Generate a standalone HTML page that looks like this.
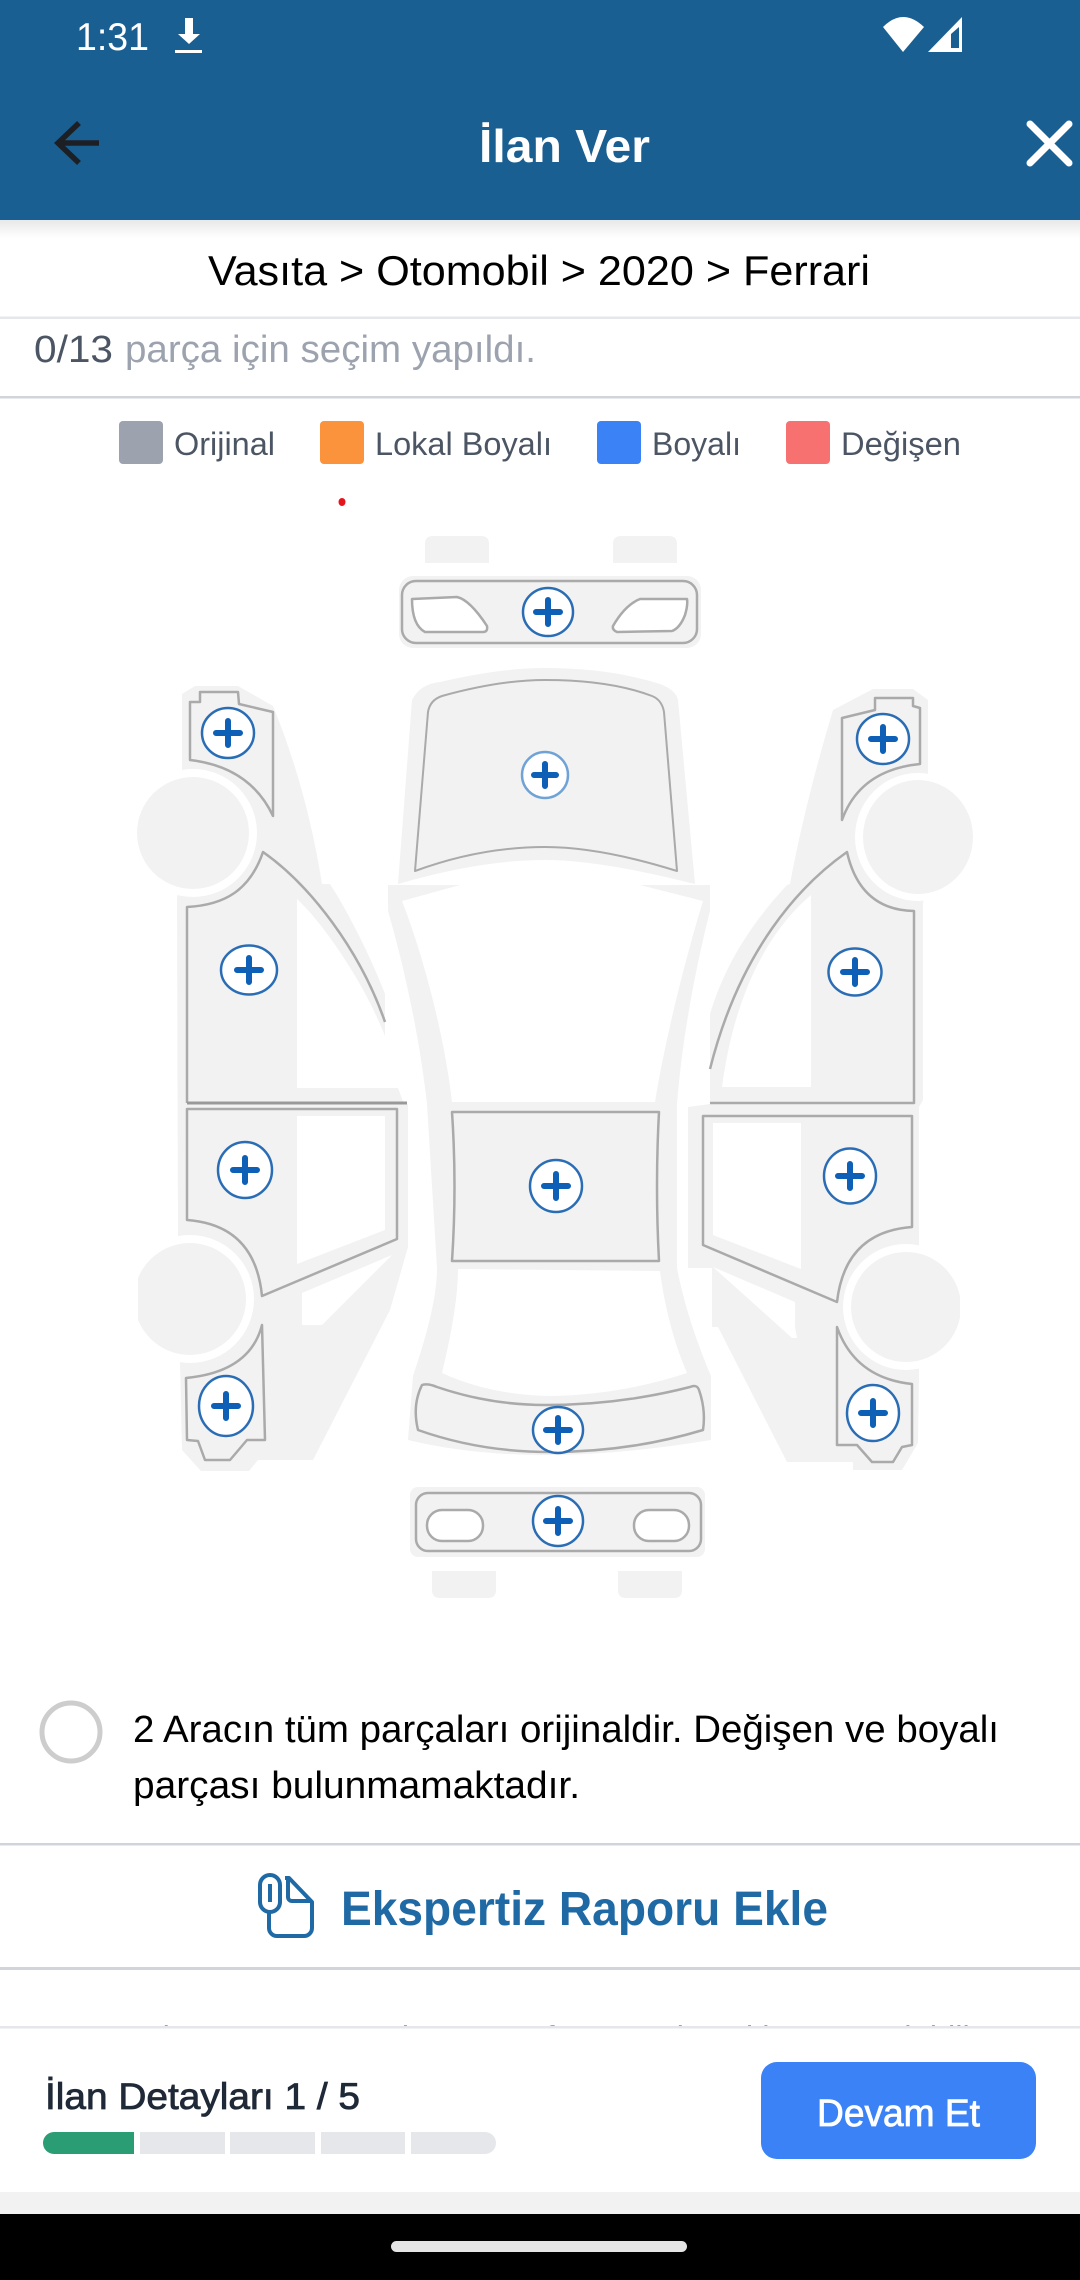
<!DOCTYPE html>
<html lang="tr">
<head>
<meta charset="utf-8">
<title>İlan Ver</title>
<style>
html,body{margin:0;padding:0;background:#fff;width:1080px;height:2280px;overflow:hidden}
svg{display:block}
text{font-family:"Liberation Sans","Noto Sans CJK JP",sans-serif}
</style>
</head>
<body>
<svg xmlns="http://www.w3.org/2000/svg" width="1080" height="2280" viewBox="0 0 1080 2280">
<defs>
<linearGradient id="sh" x1="0" y1="0" x2="0" y2="1"><stop offset="0" stop-color="#e8e8e8"/><stop offset="1" stop-color="#fff"/></linearGradient>
<clipPath id="cl"><rect x="138" y="1200" width="200" height="200"/></clipPath>
<clipPath id="cr"><rect x="780" y="1200" width="180" height="200"/></clipPath>
</defs>
<rect width="1080" height="2280" fill="#fff"/>

<!-- header -->
<rect width="1080" height="220" fill="#1a5f92"/>
<rect y="220" width="1080" height="18" fill="url(#sh)"/>
<text x="76" y="50" font-size="39" fill="#fff" textLength="73" lengthAdjust="spacingAndGlyphs">1:31</text>
<path d="M185 18h8v16h7l-11 10-11-10h7zM175 50h27v3h-27z" fill="#fff"/>
<path d="M883 27Q903 7 924 27L903 52Z" fill="#fff"/>
<path fill-rule="evenodd" d="M928 52L962 17V52ZM951 34V48H959V27Z" fill="#fff"/>
<path d="M79 123L58 143L79 163M60 143H99" fill="none" stroke="#1c1f24" stroke-width="5.5"/>
<text x="479" y="162" font-size="46" font-weight="700" fill="#fff" textLength="171" lengthAdjust="spacingAndGlyphs">İlan Ver</text>
<path d="M1030 124L1069 163M1069 124L1030 163" stroke="#fff" stroke-width="7" stroke-linecap="round"/>

<!-- breadcrumb -->
<text x="208" y="285" font-size="42" fill="#000" textLength="662" lengthAdjust="spacingAndGlyphs">Vasıta &gt; Otomobil &gt; 2020 &gt; Ferrari</text>
<rect y="316.5" width="1080" height="2.5" fill="#e5e7eb"/>
<text x="34" y="362" font-size="38" fill="#4b5563" textLength="79" lengthAdjust="spacingAndGlyphs">0/13</text>
<text x="125" y="362" font-size="38" fill="#9ca3af" textLength="411" lengthAdjust="spacingAndGlyphs">parça için seçim yapıldı.</text>
<rect y="396" width="1080" height="2.5" fill="#d1d5db"/>

<!-- legend -->
<rect x="119" y="421" width="44" height="43" rx="4" fill="#9ca3af"/>
<text x="174" y="455" font-size="32" fill="#4b5563" textLength="101" lengthAdjust="spacingAndGlyphs">Orijinal</text>
<rect x="320" y="421" width="44" height="43" rx="4" fill="#fb923c"/>
<text x="375" y="455" font-size="32" fill="#4b5563" textLength="177" lengthAdjust="spacingAndGlyphs">Lokal Boyalı</text>
<rect x="597" y="421" width="44" height="43" rx="4" fill="#3b82f6"/>
<text x="652" y="455" font-size="32" fill="#4b5563" textLength="89" lengthAdjust="spacingAndGlyphs">Boyalı</text>
<rect x="786" y="421" width="44" height="43" rx="4" fill="#f87171"/>
<text x="841" y="455" font-size="32" fill="#4b5563" textLength="120" lengthAdjust="spacingAndGlyphs">Değişen</text>
<ellipse cx="342" cy="502" rx="3.5" ry="4" fill="#e8141c"/>

<!-- car silhouettes -->
<g fill="#f2f2f2">
<path d="M425 544q0-8 8-8h48q8 0 8 8v19h-64zM613 544q0-8 8-8h48q8 0 8 8v19h-64z"/>
<rect x="399" y="576" width="302" height="72" rx="14"/>
<path d="M398 884L412 700Q420 684 440 682Q500 668 545 668Q610 668 660 684Q676 690 678 700L695 884Q600 860 545 860Q480 860 398 884Z"/>
<path d="M388 885L710 885L710 911C695 970 682 1040 677 1104L677 1268C685 1310 700 1350 711 1376L711 1440Q620 1455 545 1455Q470 1455 408 1440L413 1376C425 1340 437 1300 437 1268L427 1104C420 1040 405 970 388 911Z"/>
<rect x="410" y="1487" width="295" height="70" rx="8"/>
<path d="M432 1571h64v19q0 8-8 8h-48q-8 0-8-8zM618 1571h64v19q0 8-8 8h-48q-8 0-8-8z"/>
<path d="M182 694L195 686L238 686L273 706C295 760 312 820 322 884L330 884C350 915 372 960 385 994L385 1088L398 1088L404 1104L408 1104L408 1247L390 1310L313 1460L258 1460L249 1471L201 1471L182 1450L180 1363L178 1250L177 897L182 880Z"/>
<path d="M928 700L913 689L873 689L833 710C815 770 800 830 790 884L787 885C750 925 725 965 710 1014L710 1104L688 1107L688 1268L712 1268L712 1327L718 1327L787 1462L853 1462L853 1470L902 1470L918 1443L919 1377L919 1107L923 1100L923 903L928 880Z"/>
</g>
<g fill="#fff">
<path d="M402 901L460 885L640 885L703 901C685 960 665 1040 655 1102L452 1102C445 1040 425 960 402 901Z"/>
<path d="M458 1269L660 1271C665 1310 675 1345 687 1373Q620 1395 550 1396Q490 1395 442 1373C450 1340 458 1300 458 1269Z"/>
<path d="M302 1293L392 1255L322 1325L302 1325Z"/>
<path d="M713 1267L795 1302L795 1327L797 1338L792 1338Z"/>
<ellipse cx="193" cy="833" rx="64" ry="64"/>
<ellipse cx="918" cy="837" rx="63" ry="64"/>
<circle cx="190" cy="1299" r="64"/>
<circle cx="906" cy="1307" r="63"/>
</g>
<g fill="#f2f2f2">
<ellipse cx="193" cy="833" rx="56" ry="56"/>
<ellipse cx="918" cy="837" rx="55" ry="57"/>
<circle cx="190" cy="1299" r="56" clip-path="url(#cl)"/>
<circle cx="906" cy="1307" r="55" clip-path="url(#cr)"/>
</g>

<!-- panels -->
<g fill="#f2f2f2" stroke="#aaa" stroke-width="2.5" stroke-linejoin="round">
<rect x="402" y="581" width="295" height="62" rx="14"/>
<path fill="#fff" d="M412 599L457 597Q470 600 487 626Q488 632 483 632L425 632Q412 625 412 599Z"/>
<path fill="#fff" d="M613 626Q625 605 640 599L687 599Q688 605 685 615Q680 628 672 631L617 632Q612 630 613 626Z"/>
<path stroke-width="2" d="M415 871L428 712Q430 700 442 696Q500 680 545 680Q610 680 652 696Q662 700 664 712L677 871Q600 847 545 847Q480 847 415 871Z"/>
<path d="M452 1112L659 1112Q655 1186 659 1261L452 1261Q457 1186 452 1112Z"/>
<path d="M422 1385Q428 1383 437 1387Q490 1405 545 1405Q620 1405 690 1387Q697 1384 699 1390Q706 1410 703 1430Q630 1452 550 1452Q480 1452 418 1430Q412 1405 422 1385Z"/>
<rect x="416" y="1493" width="285" height="58" rx="12"/>
<rect x="427" y="1510" width="56" height="31" rx="15" fill="#fff"/>
<rect x="634" y="1510" width="55" height="31" rx="15" fill="#fff"/>
<path d="M190 702L200 702L200 692L238 692L239 704L273 712L273 816Q250 767 190 760Z"/>
<path d="M842 718L875 710L875 698L913 698L913 706L920 708L920 764Q860 770 842 820Z"/>
<path stroke="none" d="M187 1103L187 907C225 905 250 890 263 852C310 885 360 950 385 1022L385 1088L397 1088L397 1103Z"/>
<path fill="none" d="M187 1103L187 907C225 905 250 890 263 852C310 885 360 950 385 1022"/>
<path stroke="none" d="M914 1103L914 911Q860 910 847 852C800 885 740 950 710 1069L710 1103Z"/>
<path fill="none" d="M710 1103L914 1103L914 911Q860 910 847 852C800 885 740 950 710 1069"/>
<path d="M187 1109L397 1109L397 1239L262 1296Q255 1225 187 1220Z"/>
<path d="M703 1116L912 1116L912 1227Q845 1232 837 1302L703 1245Z"/>
<path d="M186 1378Q250 1372 262 1325L265 1440L247 1440L230 1460L205 1460L198 1441L187 1440Z"/>
<path d="M837 1327Q855 1378 912 1384L912 1445L902 1447L893 1462L872 1462L857 1445L837 1445Z"/>
</g>
<path d="M187 1103H407" stroke="#999" stroke-width="3"/>
<g fill="#fff">
<path d="M297 899C325 925 365 985 385 1036L385 1088L297 1088Z"/>
<path d="M811 895C770 930 735 990 722 1087L811 1087Z"/>
<path d="M297 1116L385 1116L385 1230L297 1264Z"/>
<path d="M713 1123L801 1123L801 1269L713 1235Z"/>
</g>

<!-- plus buttons -->
<g fill="#fff" stroke="#2a6db5" stroke-width="2.5">
<ellipse cx="548" cy="612" rx="25" ry="24"/>
<ellipse cx="545" cy="775" rx="23" ry="23" stroke="#6fa3d6"/>
<ellipse cx="228" cy="733" rx="26" ry="25"/>
<ellipse cx="883" cy="739" rx="26" ry="25"/>
<ellipse cx="249" cy="970" rx="28" ry="24.5"/>
<ellipse cx="855" cy="972" rx="26.5" ry="23.5"/>
<ellipse cx="245" cy="1170" rx="27" ry="28"/>
<ellipse cx="556" cy="1186" rx="26" ry="26"/>
<ellipse cx="850" cy="1176" rx="26" ry="27.5"/>
<ellipse cx="226" cy="1406" rx="27" ry="30"/>
<ellipse cx="873" cy="1413" rx="26" ry="28"/>
<ellipse cx="558" cy="1430" rx="25" ry="23"/>
<ellipse cx="558" cy="1521" rx="25" ry="25"/>
</g>
<path stroke="#0e5fb6" stroke-width="6" stroke-linecap="round" fill="none" d="M536 612h24M548 600v24M534 775h22M545 764v22M216 733h24M228 721v24M871 739h24M883 727v24M237 970h24M249 958v24M843 972h24M855 960v24M233 1170h24M245 1158v24M544 1186h24M556 1174v24M838 1176h24M850 1164v24M214 1406h24M226 1394v24M861 1413h24M873 1401v24M546 1430h24M558 1418v24M546 1521h24M558 1509v24"/>

<!-- radio + note -->
<circle cx="71" cy="1732" r="29" fill="#fff" stroke="#cdcdcd" stroke-width="5"/>
<text x="133" y="1742" font-size="38" fill="#000" textLength="866" lengthAdjust="spacingAndGlyphs">2 Aracın tüm parçaları orijinaldir. Değişen ve boyalı</text>
<text x="133" y="1798" font-size="38" fill="#000" textLength="447" lengthAdjust="spacingAndGlyphs">parçası bulunmamaktadır.</text>
<rect y="1843" width="1080" height="2.5" fill="#d1d5db"/>

<!-- ekspertiz -->
<g fill="none" stroke="#1f6aa5" stroke-width="4" stroke-linejoin="round">
<path d="M269 1912V1928a8 8 0 0 0 8 8H304a8 8 0 0 0 8-8V1902L289 1878H285"/>
<path d="M288 1880V1897a4 4 0 0 0 4 4H312"/>
<path d="M280 1902V1885a10 10 0 0 0-20 0V1902a10 10 0 0 0 20 0M270 1884V1902"/>
</g>
<text x="341" y="1925" font-size="48" font-weight="700" fill="#1f6aa5" textLength="487" lengthAdjust="spacingAndGlyphs">Ekspertiz Raporu Ekle</text>
<rect y="1967" width="1080" height="3" fill="#d1d5db"/>
<text x="108" y="2050" font-size="34" fill="#9ca3af" textLength="880" lengthAdjust="spacingAndGlyphs">5 Mb'ı aşmayan, sadece PDF formatında yükleme yapılabilir.</text>

<!-- footer -->
<rect y="2026" width="1080" height="166" fill="#fff"/>
<rect y="2026" width="1080" height="2.5" fill="#e5e7eb"/>
<text x="45" y="2109" font-size="37" fill="#1f2937" stroke="#1f2937" stroke-width=".8" textLength="315" lengthAdjust="spacingAndGlyphs">İlan Detayları 1 / 5</text>
<path d="M54 2132H134V2154H54a10 10 0 0 1 0-22Z" fill="#2a9d75"/>
<rect x="140" y="2132" width="85" height="22" fill="#e5e7eb"/>
<rect x="230" y="2132" width="85" height="22" fill="#e5e7eb"/>
<rect x="321" y="2132" width="84" height="22" fill="#e5e7eb"/>
<path d="M411 2132H485a11 11 0 0 1 0 22H411Z" fill="#e5e7eb"/>
<rect x="761" y="2062" width="275" height="97" rx="16" fill="#3b82f6"/>
<text x="817" y="2126" font-size="38" fill="#fff" stroke="#fff" stroke-width=".8" textLength="163" lengthAdjust="spacingAndGlyphs">Devam Et</text>
<rect y="2192" width="1080" height="22" fill="#f2f2f2"/>
<rect y="2214" width="1080" height="66" fill="#000"/>
<rect x="391" y="2241" width="296" height="11" rx="5.5" fill="#e5e5e5"/>
</svg>
</body>
</html>
